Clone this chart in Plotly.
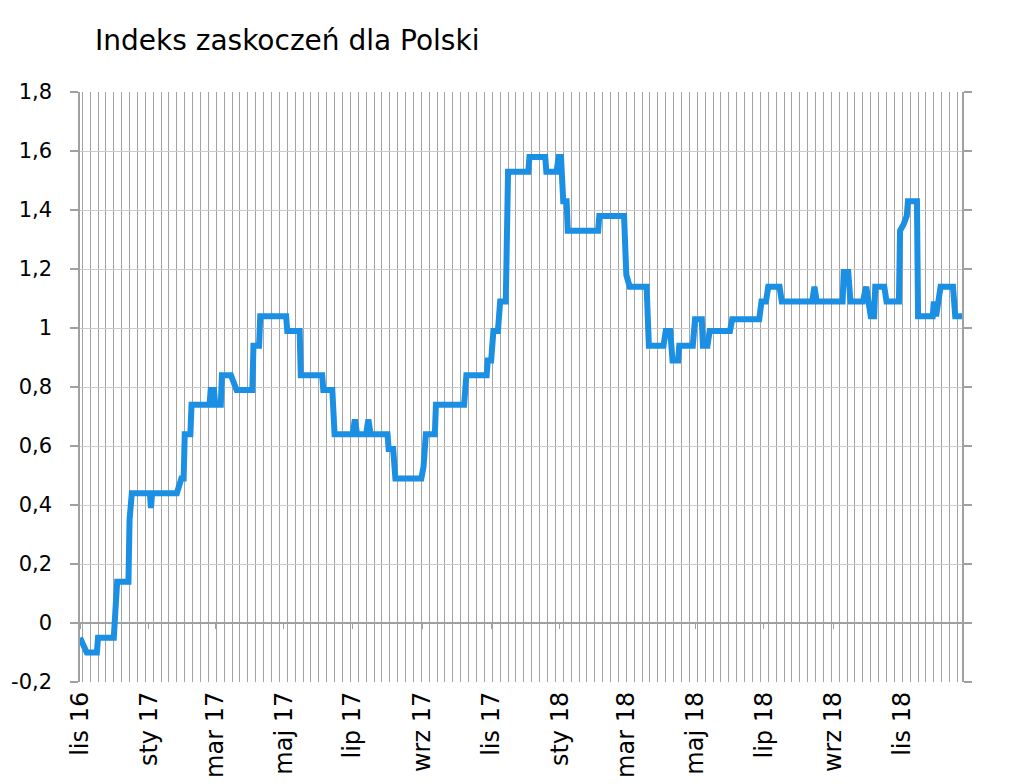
import plotly.graph_objects as go

# Indeks zaskoczen dla Polski
dates = [
	'2016-11-01', '2016-11-07', '2016-11-16', '2016-11-17', '2016-12-01', '2016-12-04',
	'2016-12-14', '2016-12-15', '2016-12-17', '2017-01-02', '2017-01-03', '2017-01-04',
	'2017-01-26', '2017-01-30', '2017-02-01', '2017-02-02', '2017-02-07', '2017-02-08',
	'2017-02-24', '2017-02-25', '2017-02-28', '2017-03-01', '2017-03-06', '2017-03-07',
	'2017-03-15', '2017-03-20', '2017-04-03', '2017-04-04', '2017-04-09', '2017-04-10',
	'2017-05-03', '2017-05-04', '2017-05-15', '2017-05-16', '2017-06-04', '2017-06-05',
	'2017-06-13', '2017-06-15', '2017-07-01', '2017-07-03', '2017-07-05', '2017-07-13',
	'2017-07-15', '2017-07-17', '2017-08-01', '2017-08-02', '2017-08-06', '2017-08-08',
	'2017-08-31', '2017-09-02', '2017-09-04', '2017-09-12', '2017-09-13', '2017-10-08',
	'2017-10-10', '2017-10-28', '2017-10-29', '2017-11-01', '2017-11-03', '2017-11-07',
	'2017-11-09', '2017-11-14', '2017-11-16', '2017-12-04', '2017-12-05', '2017-12-19',
	'2017-12-20', '2017-12-29', '2017-12-31', '2018-01-02', '2018-01-04', '2018-01-07',
	'2018-01-08', '2018-02-04', '2018-02-05', '2018-02-27', '2018-03-01', '2018-03-04',
	'2018-03-19', '2018-03-21', '2018-04-03', '2018-04-05', '2018-04-09', '2018-04-11',
	'2018-04-16', '2018-04-17', '2018-04-29', '2018-05-01', '2018-05-07', '2018-05-08',
	'2018-05-12', '2018-05-14', '2018-06-01', '2018-06-03', '2018-06-27', '2018-06-29',
	'2018-07-03', '2018-07-05', '2018-07-15', '2018-07-17', '2018-08-13', '2018-08-15',
	'2018-08-17', '2018-09-09', '2018-09-10', '2018-09-14', '2018-09-16', '2018-09-27',
	'2018-09-30', '2018-10-04', '2018-10-07', '2018-10-08', '2018-10-16', '2018-10-18',
	'2018-10-29', '2018-10-30', '2018-11-02', '2018-11-05', '2018-11-06', '2018-11-14',
	'2018-11-15', '2018-11-28', '2018-11-29', '2018-12-01', '2018-12-05', '2018-12-16',
	'2018-12-18', '2018-12-24',
]
values = [
	-0.05, -0.10, -0.10, -0.05, -0.05, 0.14,
	0.14, 0.35, 0.44, 0.44, 0.39, 0.44,
	0.44, 0.49, 0.49, 0.64, 0.64, 0.74,
	0.74, 0.79, 0.79, 0.74, 0.74, 0.84,
	0.84, 0.79, 0.79, 0.94, 0.94, 1.04,
	1.04, 0.99, 0.99, 0.84, 0.84, 0.79,
	0.79, 0.64, 0.64, 0.69, 0.64, 0.64,
	0.69, 0.64, 0.64, 0.59, 0.59, 0.49,
	0.49, 0.53, 0.64, 0.64, 0.74, 0.74,
	0.84, 0.84, 0.89, 0.89, 0.99, 0.99,
	1.09, 1.09, 1.53, 1.53, 1.58, 1.58,
	1.53, 1.53, 1.58, 1.58, 1.43, 1.43,
	1.33, 1.33, 1.38, 1.38, 1.18, 1.14,
	1.14, 0.94, 0.94, 0.99, 0.99, 0.89,
	0.89, 0.94, 0.94, 1.03, 1.03, 0.94,
	0.94, 0.99, 0.99, 1.03, 1.03, 1.09,
	1.09, 1.14, 1.14, 1.09, 1.09, 1.14,
	1.09, 1.09, 1.19, 1.19, 1.09, 1.09,
	1.14, 1.04, 1.04, 1.14, 1.14, 1.09,
	1.09, 1.33, 1.35, 1.38, 1.43, 1.43,
	1.04, 1.04, 1.09, 1.04, 1.14, 1.14,
	1.04, 1.04,
]

month_ticks = ['2016-11-01', '2017-01-01', '2017-03-01', '2017-05-01', '2017-07-01',
	'2017-09-01', '2017-11-01', '2018-01-01', '2018-03-01', '2018-05-01',
	'2018-07-01', '2018-09-01', '2018-11-01']
month_labels = ['lis 16', 'sty 17', 'mar 17', 'maj 17', 'lip 17', 'wrz 17', 'lis 17',
	'sty 18', 'mar 18', 'maj 18', 'lip 18', 'wrz 18', 'lis 18']

y_ticks = [-0.2, 0, 0.2, 0.4, 0.6, 0.8, 1.0, 1.2, 1.4, 1.6, 1.8]
y_labels = ['-0,2', '0', '0,2', '0,4', '0,6', '0,8', '1', '1,2', '1,4', '1,6', '1,8']

x_range = ['2016-11-01', '2018-12-24']
WEEK = 7 * 86400000

fig = go.Figure()
fig.add_trace(go.Scatter(
	x=dates, y=values, mode='lines',
	line=dict(color='#1B8FE3', width=6),
	showlegend=False, hoverinfo='skip'))
# empty trace so the overlay axis (month ticks on the zero line) gets drawn
fig.add_trace(go.Scatter(x=[], y=[], xaxis='x2', showlegend=False, hoverinfo='skip'))

font = dict(family='DejaVu Sans', size=21, color='black')

# page body has an 8px margin, so the figure is a bit smaller and shifted
fig.update_layout(
	width=1016, height=776,
	margin=dict(l=72, r=62, t=84, b=102),
	paper_bgcolor='white', plot_bgcolor='white',
	font=font,
	title=dict(text='Indeks zaskoczeń dla Polski', xref='container', yref='container',
		x=87/1016, y=1-32/776, xanchor='left', yanchor='middle',
		font=dict(family='DejaVu Sans', size=28, color='black')),
	xaxis=dict(
		type='date', range=x_range, automargin=False,
		tickmode='array', tickvals=month_ticks, ticktext=month_labels,
		tickangle=-90, ticks='', showgrid=False, zeroline=False, showline=False,
		tickfont=dict(family='DejaVu Sans', size=24, color='black'),
		ticklabelstandoff=4,
		minor=dict(tick0='2016-11-10', dtick=WEEK, showgrid=True,
			gridcolor='#A3A3A3', gridwidth=1, ticks='')),
	xaxis2=dict(
		type='date', overlaying='x', matches='x', anchor='free', position=0.1,
		tickmode='array', tickvals=month_ticks, showticklabels=False,
		ticks='outside', ticklen=5, tickcolor='#A0A0A0', tickwidth=1,
		showgrid=False, zeroline=False, showline=False),
	yaxis=dict(
		range=[-0.2, 1.8], automargin=False,
		tickmode='array', tickvals=y_ticks, ticktext=y_labels,
		showgrid=True, gridcolor='#CCCCCC', gridwidth=1,
		zeroline=True, zerolinecolor='#A0A0A0', zerolinewidth=1.5,
		showline=True, linecolor='#A0A0A0', linewidth=1.5, mirror='ticks',
		ticks='outside', ticklen=8, tickcolor='#A0A0A0', tickwidth=1.5,
		ticklabelstandoff=14),
)

fig.write_html('out.html')
